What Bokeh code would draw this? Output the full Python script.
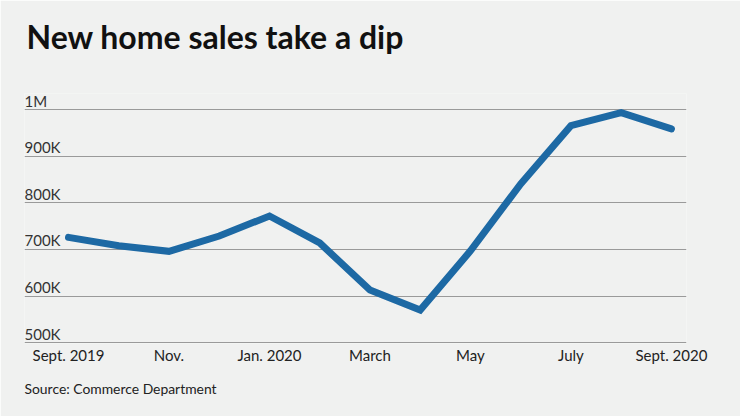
from bokeh.plotting import figure
from bokeh.models import FixedTicker, Title, Range1d, ColumnDataSource
from bokeh.core.properties import value
from bokeh.embed import file_html
from bokeh.resources import INLINE

# Data (monthly new home sales, seasonally adjusted annual rate)
months = ["Sept. 2019", "Oct.", "Nov.", "Dec.", "Jan. 2020", "Feb.", "March",
          "April", "May", "June", "July", "Aug.", "Sept. 2020"]
sales = [726000, 708000, 696000, 729000, 772000, 714000, 613000,
         570000, 697000, 841000, 966000, 994000, 959000]
label_idx = [0, 2, 4, 6, 8, 10, 12]
y_ticks = [500000, 600000, 700000, 800000, 900000, 1000000]
y_tick_labels = ["500K", "600K", "700K", "800K", "900K", "1M"]

BG = "#f0f1f0"
LINE = "#1d69a4"
FONT = "Lato"

W, H = 740, 416
p = figure(width=W, height=H, output_backend="svg", toolbar_location=None,
           min_border_left=24, min_border_right=54, min_border_top=93,
           min_border_bottom=73)
p.background_fill_color = BG
p.border_fill_color = BG
p.outline_line_color = None
p.title.visible = False

p.x_range = Range1d(-0.876, 12.3)
p.y_range = Range1d(498000, 1035172)

x = list(range(len(sales)))
src = ColumnDataSource(dict(x=x, y=sales))
p.line("x", "y", source=src, line_color=LINE, line_width=7,
       line_cap="round", line_join="miter")

# y labels sitting above gridlines
ysrc = ColumnDataSource(dict(x=[-0.876] * len(y_ticks), y=y_ticks, t=y_tick_labels))
p.text("x", "y", text="t", source=ysrc, text_font=value(FONT),
       text_font_size="15px", text_color="#333333", text_baseline="bottom",
       text_align="left", y_offset=0)

# axes
p.yaxis.visible = False
p.xaxis.ticker = FixedTicker(ticks=label_idx)
p.xaxis.major_label_overrides = {i: months[i] for i in label_idx}
p.xaxis.axis_line_color = None
p.xaxis.major_tick_line_color = None
p.xaxis.minor_tick_line_color = None
p.xaxis.major_label_standoff = -4
p.xaxis.major_label_text_font = FONT
p.xaxis.major_label_text_font_size = "15px"
p.xaxis.major_label_text_color = "#222222"

p.xgrid.visible = False
p.ygrid.ticker = FixedTicker(ticks=y_ticks)
p.ygrid.grid_line_color = "#9a9a9a"
p.ygrid.grid_line_width = 1.2

# spacer between frame and title (nearest the frame), then the main title
spacer = Title(text=" ", text_font_size="1px", standoff=25, align="left")
p.add_layout(spacer, "above")
main_title = Title(text="New home sales take a dip", align="left",
                   text_font=FONT, text_font_style="bold", text_font_size="32px",
                   text_color="#111111", offset=2, standoff=20)
p.add_layout(main_title, "above")

# source note
src_title = Title(text="Source: Commerce Department", align="left",
                  text_font=FONT, text_font_size="13.9px",
                  text_font_style="normal", text_color="#222222",
                  offset=0, standoff=22)
p.add_layout(src_title, "below")

open("out.html", "w").write(file_html(p, INLINE))
